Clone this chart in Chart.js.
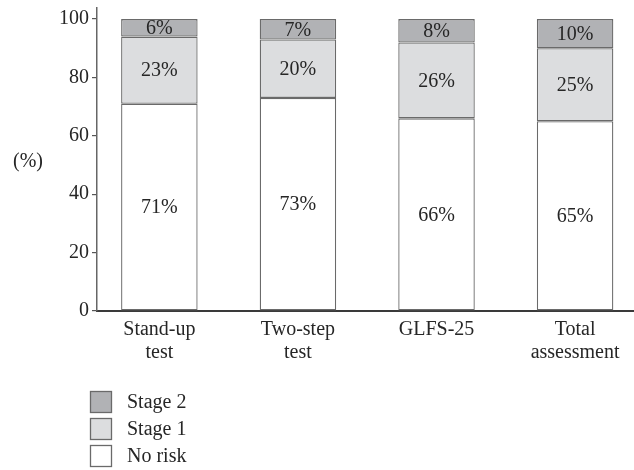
<!DOCTYPE html>
<html>
<head>
<meta charset="utf-8">
<script src="https://cdn.jsdelivr.net/npm/chart.js@4/dist/chart.umd.min.js"></script>
<style>
  html, body { margin: 0; padding: 0; background: #fff; overflow: hidden; }
  #wrap { width: 634px; height: 470px; }
</style>
</head>
<body>
<div id="wrap"><canvas id="c" width="634" height="470"></canvas></div>
<script>
// Frailty stage shares per assessment method (percent of participants)
const categories = [['Stand-up', 'test'], ['Two-step', 'test'], ['GLFS-25'], ['Total', 'assessment']];
const noRisk = [71, 73, 66, 65];
const stage1 = [23, 20, 26, 25];
const stage2 = [6, 7, 8, 10];
const yTicks = [0, 20, 40, 60, 80, 100];
const seriesNames = ['No risk', 'Stage 1', 'Stage 2'];

const FONT = { family: '"Liberation Serif", "Times New Roman", serif', size: 20 };
const INK = '#262626';
const fills = ['#ffffff', '#dcdddf', '#b1b2b5'];
const edge = '#6a6a6a';

const toPoints = arr => arr.map((v, i) => ({ x: i, y: v }));

// Percent text centred in every stacked segment
const segmentLabels = {
  id: 'segmentLabels',
  afterDatasetsDraw(chart) {
    const ctx = chart.ctx;
    ctx.save();
    ctx.font = `${FONT.size}px ${FONT.family}`;
    ctx.fillStyle = INK;
    ctx.textAlign = 'center';
    ctx.textBaseline = 'middle';
    chart.data.datasets.forEach((ds, di) => {
      const meta = chart.getDatasetMeta(di);
      meta.data.forEach((el, i) => {
        const v = ds.data[i].y;
        ctx.fillText(v + '%', el.x, (el.y + el.base) / 2 + 1);
      });
    });
    ctx.restore();
  }
};

// Unit caption beside the value axis and the stacked legend under the plot
const extras = {
  id: 'extras',
  afterDraw(chart) {
    const ctx = chart.ctx;
    const area = chart.chartArea;
    const yScale = chart.scales.y;
    ctx.save();
    ctx.font = `${FONT.size}px ${FONT.family}`;
    ctx.fillStyle = INK;
    ctx.textAlign = 'center';
    ctx.textBaseline = 'middle';
    ctx.fillText('(%)', area.left - 69, yScale.getPixelForValue(51));

    const box = 21, gap = 27;
    const x0 = area.left - 7;
    const y0 = 391;
    const order = chart.data.datasets.map((d, i) => i).reverse();
    ctx.textAlign = 'left';
    order.forEach((di, row) => {
      const ds = chart.data.datasets[di];
      const top = y0 + row * gap;
      ctx.fillStyle = ds.backgroundColor;
      ctx.fillRect(x0, top, box, box);
      ctx.strokeStyle = ds.borderColor;
      ctx.lineWidth = 1.3;
      ctx.strokeRect(x0 + 0.5, top + 0.5, box, box);
      ctx.fillStyle = INK;
      ctx.fillText(ds.label, x0 + box + 16, top + box / 2 + 1);
    });
    ctx.restore();
  }
};

const series = [noRisk, stage1, stage2];

new Chart(document.getElementById('c'), {
  type: 'bar',
  data: {
    datasets: series.map((arr, k) => ({
      label: seriesNames[k],
      data: toPoints(arr),
      backgroundColor: fills[k],
      borderColor: edge,
      borderWidth: 1.3,
      borderSkipped: false,
      categoryPercentage: 1,
      barPercentage: 0.552
    }))
  },
  options: {
    responsive: false,
    devicePixelRatio: 1,
    animation: false,
    layout: { padding: { top: 3, right: 0, bottom: 0, left: 0 } },
    plugins: {
      legend: { display: false },
      tooltip: { enabled: false }
    },
    scales: {
      x: {
        type: 'linear',
        stacked: true,
        offset: false,
        min: -0.45,
        max: 3.425,
        z: 1,
        afterBuildTicks: s => { s.ticks = categories.map((c, i) => ({ value: i })); },
        afterFit: s => { s.height = 159; },
        ticks: {
          autoSkip: false,
          maxRotation: 0,
          padding: 7,
          color: INK,
          font: { ...FONT, lineHeight: 1.17 },
          callback: (v, i) => categories[i]
        },
        grid: { display: false, drawTicks: false },
        border: { display: true, color: '#3a3a3a', width: 2 }
      },
      y: {
        stacked: true,
        min: 0,
        max: 103.8,
        afterBuildTicks: s => { s.ticks = yTicks.map(v => ({ value: v })); },
        afterFit: s => { s.width = 97; },
        ticks: { color: INK, font: { ...FONT, lineHeight: 0.5 }, padding: 3 },
        grid: { drawOnChartArea: false, drawTicks: true, tickLength: 5, color: '#555', lineWidth: 1.2 },
        border: { display: true, color: '#666', width: 1.5 }
      }
    }
  },
  plugins: [segmentLabels, extras]
});
</script>
</body>
</html>
